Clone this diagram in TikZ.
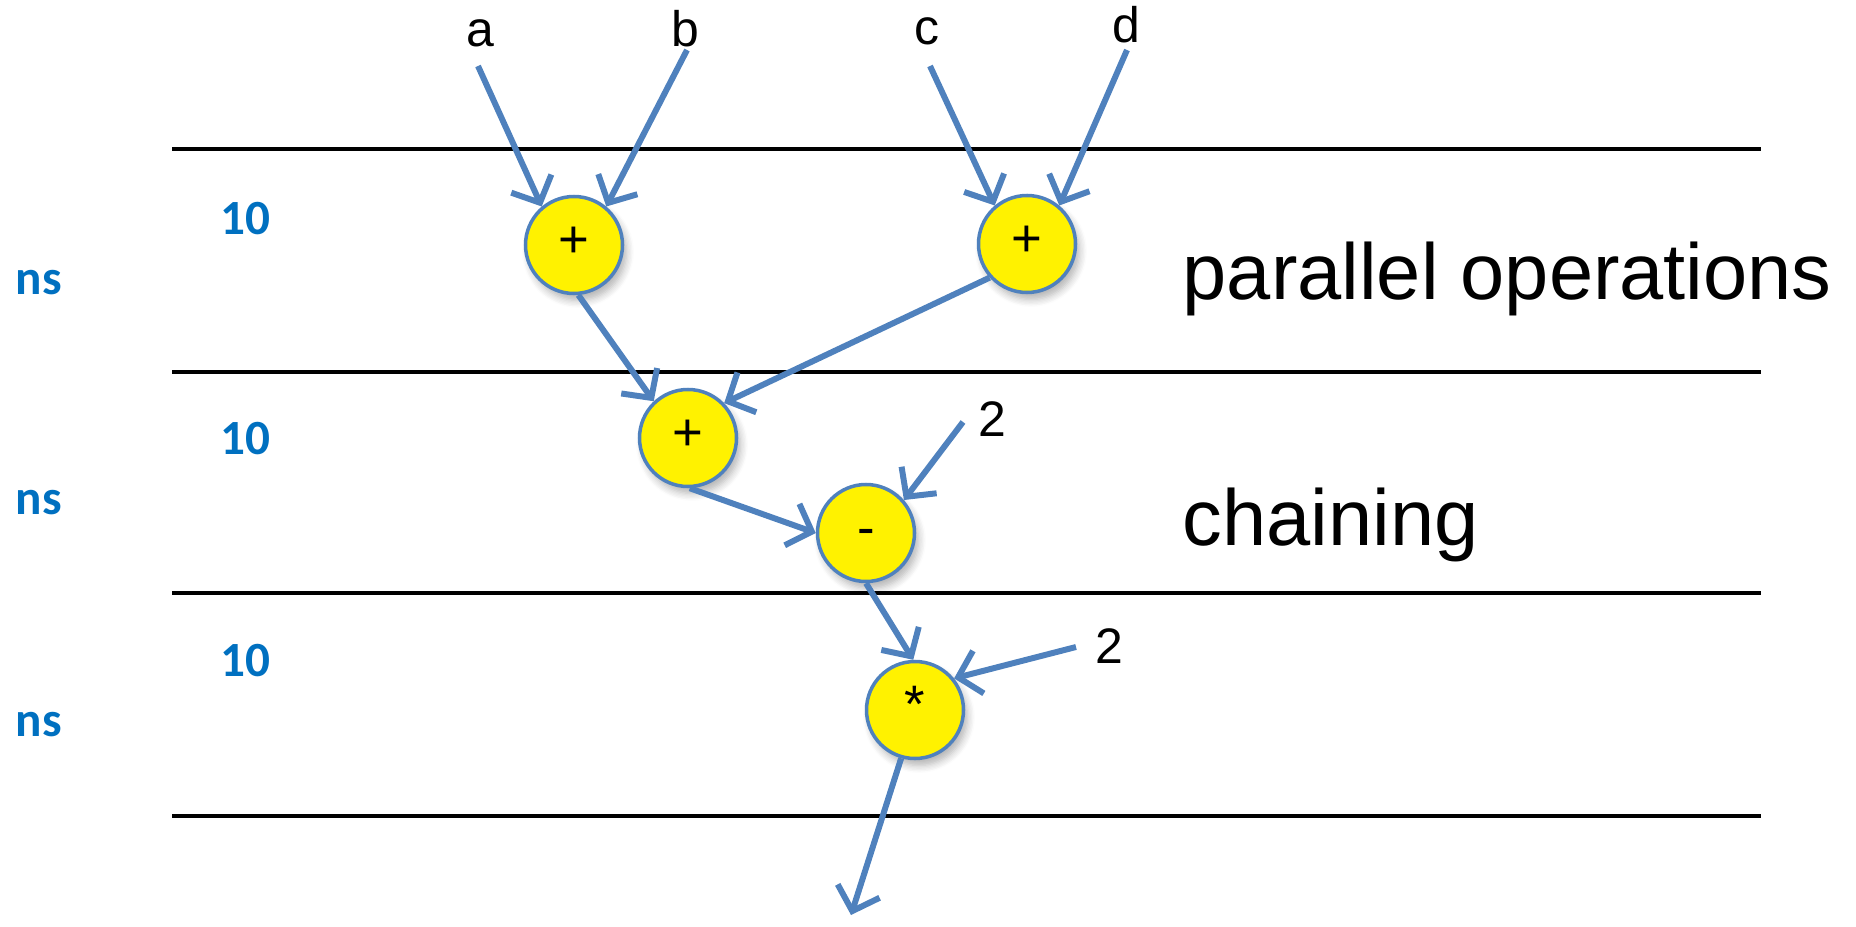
\documentclass[tikz,border=0pt]{standalone}
\usepackage{fontspec}
\setmainfont{Liberation Sans}
\newfontfamily\calibri{Carlito}
\usetikzlibrary{arrows.meta,shadows.blur}
\definecolor{edgeblue}{RGB}{79,129,189}
\definecolor{nsblue}{RGB}{0,112,192}
\begin{document}
\begin{tikzpicture}[
  op/.style={circle,draw=edgeblue,line width=1pt,fill=yellow,minimum size=0.97cm,inner sep=0pt,
    font=\fontsize{15}{15}\selectfont,text height=0.8em,text depth=0.1em,
    blur shadow={shadow xshift=0.4mm,shadow yshift=-0.7mm,shadow blur steps=6,shadow opacity=30}},
  flow/.style={draw=edgeblue,line width=1.7pt,-{Straight Barb[length=2.1mm,width=4.4mm]}},
  lbl/.style={anchor=base,inner sep=0pt,font=\fontsize{14.2}{14}\selectfont},
  unit/.style={anchor=base west,inner sep=0pt,text=nsblue,font=\calibri\bfseries\fontsize{14}{14}\selectfont},
  note/.style={anchor=base west,inner sep=0pt,font=\fontsize{22.6}{27}\selectfont}]
\useasboundingbox (0,0) rectangle (18.56,9.26);

\foreach \y in {7.77,5.54,3.33,1.10}
  \draw[line width=0.9pt] (1.72,\y) -- (17.61,\y);

\foreach \y/\i in {6.91/1,4.72/2,2.50/3} {
  \node[unit] (ten\i) at (2.20,\y) {10};
  \node[unit] (ns\i) at (0.15,\y-0.60) {ns};
}

\node[op] (add1) at (5.74,6.81) {+};
\node[op] (add2) at (10.27,6.82) {+};
\node[op] (add3) at (6.88,4.88) {+};
\node[op] (sub) at (8.66,3.93) {-};
\node[op] (mul) at (9.15,2.16) {*};

\node[lbl] (a) at (4.80,8.79) {a};
\node[lbl] (b) at (6.85,8.79) {b};
\node[lbl] (c) at (9.27,8.81) {c};
\node[lbl] (d) at (11.26,8.83) {d};
\node[lbl] (two1) at (9.92,4.90) {2};
\node[lbl] (two2) at (11.09,2.63) {2};

\coordinate (a0) at (4.78,8.60);
\coordinate (b0) at (6.87,8.76);
\coordinate (c0) at (9.30,8.60);
\coordinate (d0) at (11.27,8.76);
\coordinate (k1) at (9.63,5.04);
\coordinate (k2) at (10.76,2.79);
\coordinate (out) at (8.51,0.11);

\draw[flow] (a0) -- (add1.130);
\draw[flow] (b0) -- (add1.50);
\draw[flow] (c0) -- (add2.130);
\draw[flow] (d0) -- (add2.50);
\draw[flow] (add1.275) -- (add3.133);
\draw[flow] (add2.222) -- (add3.44);
\draw[flow] (add3.272) -- (sub.180);
\draw[flow] (k1) -- (sub.41);
\draw[flow] (sub.270) -- (mul.92);
\draw[flow] (k2) -- (mul.39);
\draw[flow] (mul.254) -- (out);

\node[note] (par) at (11.82,6.26) {parallel operations};
\node[note] (chain) at (11.82,3.81) {chaining};
\end{tikzpicture}
\end{document}
